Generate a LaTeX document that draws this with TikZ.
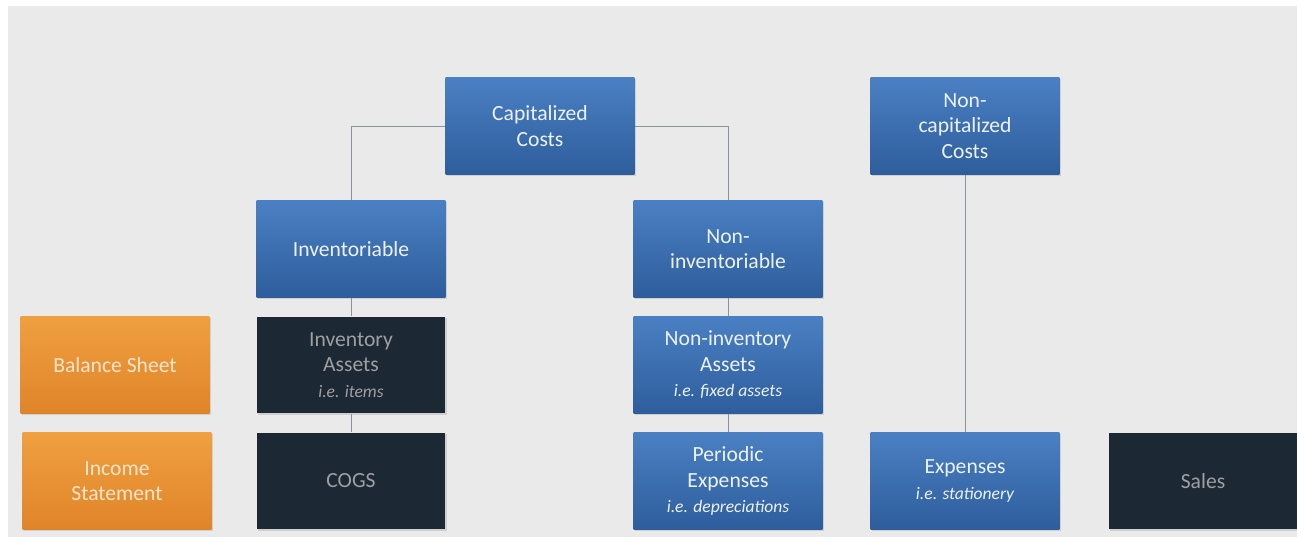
\documentclass[tikz,border=0pt]{standalone}
\usepackage{fontspec}
\setmainfont{Carlito}
\usepackage{tikz}
\usetikzlibrary{shadows}
\definecolor{bg}{HTML}{EAEAEA}
\definecolor{bluetop}{HTML}{4A80C3}
\definecolor{bluebot}{HTML}{2E5D9C}
\definecolor{darkbox}{HTML}{1C2935}
\definecolor{orgtop}{HTML}{EFA040}
\definecolor{orgbot}{HTML}{E0842A}
\definecolor{linegray}{HTML}{8A949E}

\begin{document}
\begin{tikzpicture}[x=0.02cm, y=-0.02cm,
  box/.style={minimum width=3.78cm, minimum height=1.94cm, align=center, inner sep=2pt,
    font=\fontsize{12.3}{14.5}\selectfont, drop shadow={opacity=0.25, shadow xshift=0.6pt, shadow yshift=-0.8pt}},
  bluebox/.style={box, top color=bluetop, bottom color=bluebot, text=white!90!bluetop},
  darkbox/.style={box, fill=darkbox, text=gray!75!white},
  orangebox/.style={box, top color=orgtop, bottom color=orgbot, text=orange!20!white},
  link/.style={linegray, thin}]
\useasboundingbox (0,0) rectangle (1297,541);
\fill[white] (0,0) rectangle (1297,541);
\fill[bg] (8,6) rectangle (1297,537);
% top row
\node[bluebox] (cap) at (540,126) {Capitalized\\Costs};
\node[bluebox] (noncap) at (965,126) {Non-\\capitalized\\Costs};
% second row
\node[bluebox] (inv) at (351,249) {Inventoriable};
\node[bluebox] (noninv) at (728,249) {Non-\\inventoriable};
% balance sheet row
\node[orangebox] (bs) at (115,365) {Balance Sheet};
\node[darkbox] (invassets) at (351,365) {Inventory\\Assets\\{\fontsize{10}{12}\selectfont\itshape i.e. items}};
\node[bluebox] (noninvassets) at (728,365) {Non-inventory\\Assets\\{\fontsize{10}{12}\selectfont\itshape i.e. fixed assets}};
% income statement row
\node[orangebox] (is) at (117,481) {Income\\Statement};
\node[darkbox] (cogs) at (351,481) {COGS};
\node[bluebox] (periodic) at (728,481) {Periodic\\Expenses\\{\fontsize{10}{12}\selectfont\itshape i.e. depreciations}};
\node[bluebox] (exp) at (965,481) {Expenses\\{\fontsize{10}{12}\selectfont\itshape i.e. stationery}};
\node[darkbox] (sales) at (1203,481) {Sales};
% connectors
\draw[link] (cap.west) -| (inv.north);
\draw[link] (cap.east) -| (noninv.north);
\draw[link] (inv.south) -- (invassets.north);
\draw[link] (invassets.south) -- (cogs.north);
\draw[link] (noninv.south) -- (noninvassets.north);
\draw[link] (noninvassets.south) -- (periodic.north);
\draw[link] (noncap.south) -- (exp.north);
\end{tikzpicture}
\end{document}
